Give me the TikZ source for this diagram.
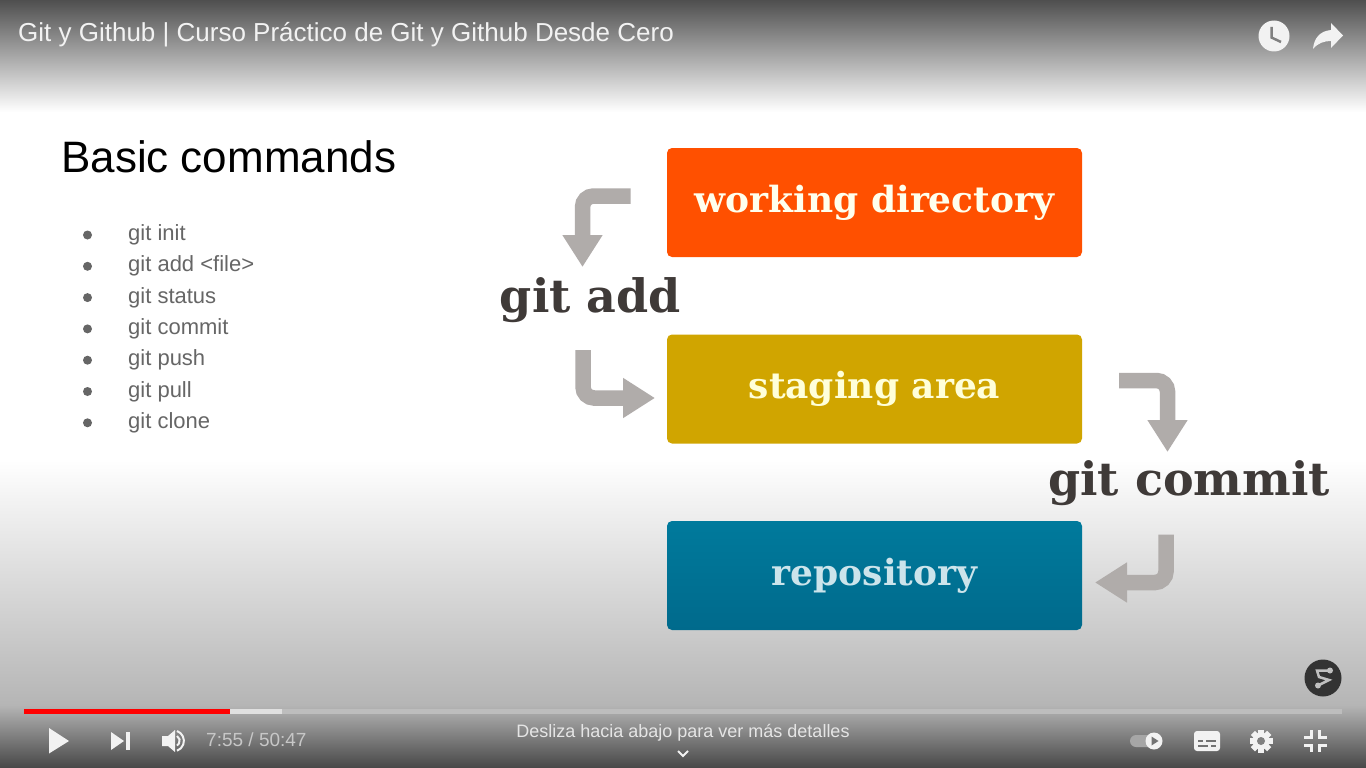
\documentclass[tikz,border=0pt]{standalone}
\usepackage[rgb]{xcolor}
\usepackage{fontspec}
\usetikzlibrary{arrows.meta}
\setmainfont{Liberation Sans}
\newfontfamily\slabfont{DejaVu Serif}
\definecolor{wd_orange}{HTML}{FF5000}
\definecolor{sa_yellow}{HTML}{D0A500}
\definecolor{repo_top}{HTML}{007A9C}
\definecolor{repo_bot}{HTML}{006A8C}
\definecolor{flow_grey}{HTML}{B0ACAA}
\definecolor{cmd_ink}{HTML}{3F3A38}
\definecolor{list_ink}{HTML}{666666}
\definecolor{icon_white}{HTML}{F2F2F2}
\tikzset{
    stagebox/.style={rounded corners=5pt, minimum width=415pt, minimum height=109pt, inner sep=0pt, font=\slabfont\bfseries\fontsize{36}{36}\selectfont},
    cmdlabel/.style={inner sep=0pt, text=cmd_ink, font=\slabfont\bfseries\fontsize{46}{46}\selectfont},
    flow/.style={draw=flow_grey, line width=15.5pt, rounded corners=11pt, -{Triangle[length=32pt, width=38pt]}},
    listitem/.style={inner sep=0pt, anchor=west, text=list_ink, font=\fontsize{22}{22}\selectfont},
    barfont/.style={inner sep=0pt, font=\fontsize{19}{19}\selectfont},
    icon/.style={fill=icon_white, draw=none},
    iconline/.style={draw=icon_white, line width=3pt}
}
\begin{document}
\begin{tikzpicture}[x=1pt, y=-1pt]
    \useasboundingbox (0,0) rectangle (1366,768);
    \fill[white] (0,0) rectangle (1366,768);
    \shade[top color=black!69, bottom color=white] (0,0) rectangle (1366,112);
    \shade[top color=white, bottom color=black!6] (0,460) rectangle (1366,510);
    \shade[top color=black!6, bottom color=black!29] (0,510) rectangle (1366,705);
    \shade[top color=black!29, bottom color=black!72] (0,705) rectangle (1366,768);

    \node[inner sep=0pt, anchor=west, text=icon_white, font=\fontsize{26}{26}\selectfont] (title) at (18,35) {Git y Github | Curso Práctico de Git y Github Desde Cero};
    \node[inner sep=0pt, anchor=west, text=black, font=\fontsize{44}{44}\selectfont] (basic) at (61,157) {Basic commands};

    \foreach \i/\txt in {0/git init, 1/git add <file>, 2/git status, 3/git commit, 4/git push, 5/git pull, 6/git clone}{
        \fill[list_ink] (87.5,235+31.3*\i) circle (4.5pt);
        \node[listitem] (item\i) at (128,235+31.3*\i) {\txt};
    }

    \node[stagebox, fill=wd_orange, text=white!93!yellow] (wd) at (874.5,202.5) {working directory};
    \node[stagebox, fill=sa_yellow, text=white!85!yellow] (sa) at (874.5,389) {staging area};
    \node[stagebox, top color=repo_top, bottom color=repo_bot, text=white!80!repo_top] (repo) at (874.5,575.5) {repository};

    \node[cmdlabel] (gitadd) at (590.5,300) {git add};
    \node[cmdlabel] (gitcommit) at (1189,483) {git commit};

    \coordinate (add_a) at (630.5,196);
    \coordinate (add_b) at (582.5,267);
    \coordinate (add_c) at (583,350);
    \coordinate (add_d) at (655,398);
    \coordinate (commit_a) at (1119,380.5);
    \coordinate (commit_b) at (1167.5,452);
    \coordinate (commit_c) at (1166,534.5);
    \coordinate (commit_d) at (1095,582.5);
    \draw[flow] (add_a) -| (add_b);
    \draw[flow] (add_c) |- (add_d);
    \draw[flow] (commit_a) -| (commit_b);
    \draw[flow] (commit_c) |- (commit_d);

    \fill[black!26] (24,709) rectangle (1342,714);
    \fill[black!12] (230,709) rectangle (282,714);
    \fill[red] (24,709) rectangle (230,714);

    \node[barfont, anchor=west, text=black!22] (time) at (206,740) {7:55 / 50:47};
    \node[barfont, text=black!10, font=\fontsize{18}{18}\selectfont] (hint) at (683,733) {Desliza hacia abajo para ver más detalles};
    \draw[draw=icon_white, line width=2pt] (678,751) -- (683,756) -- (688,751);

    \fill[icon_white] (1274,36) circle (15.5pt);
    \draw[draw=black!50, line width=2.5pt] (1271.5,27) -- (1271.5,37.5) -- (1281,42);
    \fill[icon] (1343,35.5) -- (1331,23) -- (1331,30) .. controls (1320,31) and (1314,38) .. (1313,49) .. controls (1318,43) and (1324,41) .. (1331,41) -- (1331,48) -- cycle;

    \fill[icon] (49,728) -- (69,741) -- (49,753.5) -- cycle;
    \fill[icon] (111,732) -- (124,741) -- (111,750) -- cycle;
    \fill[icon] (126,732) rectangle (129.5,750);
    \fill[icon] (162,736) -- (168,736) -- (175,730) -- (175,752) -- (168,746) -- (162,746) -- cycle;
    \draw[iconline, line width=2pt] (177,736) arc (-60:60:5.5);
    \draw[iconline, line width=2pt] (177,731) arc (-70:70:10.5);

    \fill[black!35, rounded corners=6pt] (1130,735) rectangle (1156,747);
    \fill[icon] (1154,741) circle (8.5pt);
    \fill[black!55] (1151.5,736.5) -- (1158.5,741) -- (1151.5,745.5) -- cycle;

    \fill[icon, rounded corners=3pt] (1194,731) rectangle (1220,751);
    \draw[draw=black!55, line width=2pt] (1198,741) -- (1203,741) (1206,741) -- (1216,741) (1198,746) -- (1208,746) (1211,746) -- (1216,746);

    \foreach \a in {0,45,...,315}{
        \fill[icon, rotate around={\a:(1261,741)}] (1258,729.5) rectangle (1264,736);
    }
    \fill[icon] (1261,741) circle (8.5pt);
    \fill[black!50] (1261,741) circle (4pt);

    \draw[iconline] (1304,737) -- (1311.5,737) -- (1311.5,730);
    \draw[iconline] (1327,737) -- (1319,737) -- (1319,730);
    \draw[iconline] (1304,745) -- (1311.5,745) -- (1311.5,752);
    \draw[iconline] (1327,745) -- (1319,745) -- (1319,752);

    \fill[black!80] (1323,678) circle (18.5pt);
    \draw[draw=black!25, line width=2.5pt] (1330,670.5) -- (1317,670.5) -- (1319,677) -- (1329,680) -- (1318,685.5);
    \fill[black!25] (1330,670.5) circle (3pt);
    \fill[black!25] (1318,685.5) circle (3pt);
\end{tikzpicture}
\end{document}
